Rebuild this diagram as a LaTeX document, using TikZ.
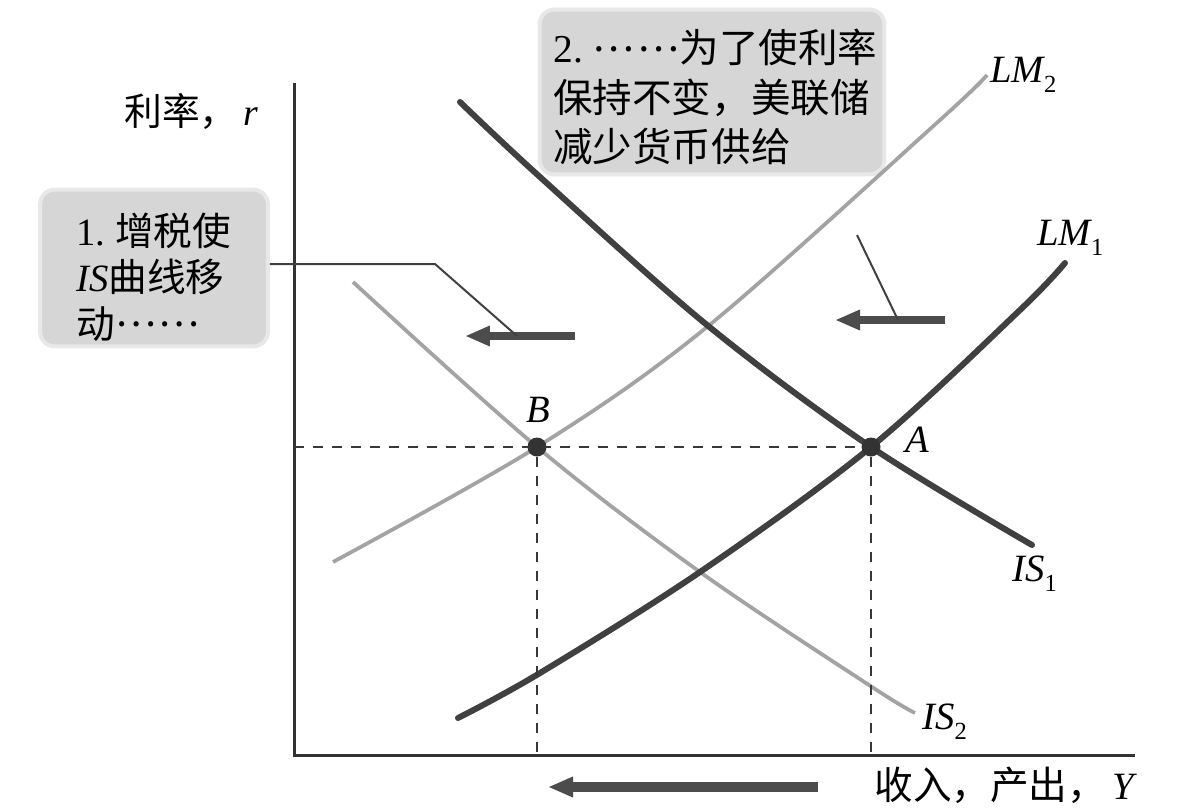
\documentclass[tikz,border=0pt]{standalone}
\usepackage{fontspec}
\setmainfont{Liberation Serif}
\newfontfamily\cjk{Noto Sans CJK SC}
\usetikzlibrary{arrows.meta}
\newcommand\subidx[1]{\raisebox{-0.55ex}{\upshape\fontsize{14}{14}\selectfont #1}}
\newcommand\midell{\raisebox{0.3em}{\cjk …\kern0.08em…}}
\begin{document}
\begin{tikzpicture}[x=0.02cm,y=-0.02cm,
  darkline/.style={draw=black!75, line width=0.12cm, line cap=round},
  grayline/.style={draw=black!36, line width=0.075cm},
  axisline/.style={draw=black!80, line width=0.06cm},
  guide/.style={draw=black!78, line width=0.055cm, dash pattern=on 0.2cm off 0.18cm},
  leader/.style={draw=black!75, line width=0.04cm},
  bigarrow/.style={draw=black!70, line width=0.16cm, -{Triangle[length=0.5cm,width=0.38cm]}},
  note/.style={fill=black!16, draw=black!9, line width=0.08cm, rounded corners=0.3cm, inner sep=0},
  lbl/.style={font=\fontsize{22}{22}\selectfont\itshape, inner sep=0},
  dot/.style={circle, fill=black!80, inner sep=0, minimum size=0.38cm}
]
\useasboundingbox (0,0) rectangle (1194,809);

% note boxes
\node[note, minimum width=4.56cm, minimum height=3.14cm] (box1) at (154,268) {};
\node[note, minimum width=6.9cm, minimum height=3.3cm] (box2) at (712,92) {};
\node[anchor=west, align=left, inner sep=0, font=\fontsize{22}{26.5}\selectfont] (t1) at (76,277)
  {1.\ {\cjk 增税使}\\{\itshape IS}{\cjk 曲线移}\\{\cjk 动}\midell};
\node[anchor=west, align=left, inner sep=0, font=\fontsize{22.5}{28}\selectfont] (t2) at (553,97)
  {2.\ \midell{\cjk 为了使利率}\\{\cjk 保持不变，美联储}\\{\cjk 减少货币供给}};

% axes
\coordinate (O) at (294,755);
\coordinate (ytop) at (294,83);
\coordinate (xend) at (1135,755);
\draw[axisline] (ytop) -- (O) -- (xend);
\node[anchor=west, inner sep=0, font=\fontsize{21.5}{21.5}\selectfont] (ylab) at (124,112) {{\cjk 利率，}\,\textit{r}};
\node[anchor=east, inner sep=0, font=\fontsize{22}{22}\selectfont] (xlab) at (1138,785) {{\cjk 收入，产出，}\,\textit{Y}};

% curves
\draw[grayline] plot[smooth, tension=0.55] coordinates {(333,562) (537,447) (707,327) (940,120) (987,75)};
\draw[grayline] plot[smooth, tension=0.55] coordinates {(353,282) (537,447) (700,572) (872,687) (915,713)};
\draw[darkline] plot[smooth, tension=0.55] coordinates {(460,102) (540,177) (707,325) (871,447) (1032,545)};
\draw[darkline] plot[smooth, tension=0.55] coordinates {(458,718) (540,673) (700,572) (871,447) (1020,310) (1065,263)};

% equilibrium points
\node[dot] (B) at (537,447) {};
\node[dot] (A) at (871,447) {};
\coordinate (rB) at (294,447);
\coordinate (yB) at (537,755);
\coordinate (yA) at (871,755);
\draw[guide] (rB) -- (A);
\draw[guide] (B) -- (yB);
\draw[guide] (A) -- (yA);
\node[lbl] (Blab) at (538,410) {B};
\node[lbl] (Alab) at (917,440) {A};

% curve labels
\node[lbl, anchor=west] (lm2) at (990,75) {LM\subidx{2}};
\node[lbl, anchor=west] (lm1) at (1037,238) {LM\subidx{1}};
\node[lbl, anchor=west] (is1) at (1012,574) {IS\subidx{1}};
\node[lbl, anchor=west] (is2) at (922,722) {IS\subidx{2}};

% shift arrows
\coordinate (a1s) at (575,336);
\coordinate (a1e) at (465,336);
\draw[bigarrow] (a1s) -- (a1e);
\coordinate (a2s) at (945,320);
\coordinate (a2e) at (835,320);
\draw[bigarrow] (a2s) -- (a2e);
\coordinate (a3s) at (818,787);
\coordinate (a3e) at (548,787);
\draw[bigarrow, line width=0.19cm] (a3s) -- (a3e);

% leaders
\coordinate (l1b) at (435,264);
\coordinate (l1c) at (517,336);
\draw[leader] (box1.east |- l1b) -- (l1b) -- (l1c);
\coordinate (l2a) at (857,235);
\coordinate (l2b) at (898,320);
\draw[leader] (l2a) -- (l2b);
\end{tikzpicture}
\end{document}
